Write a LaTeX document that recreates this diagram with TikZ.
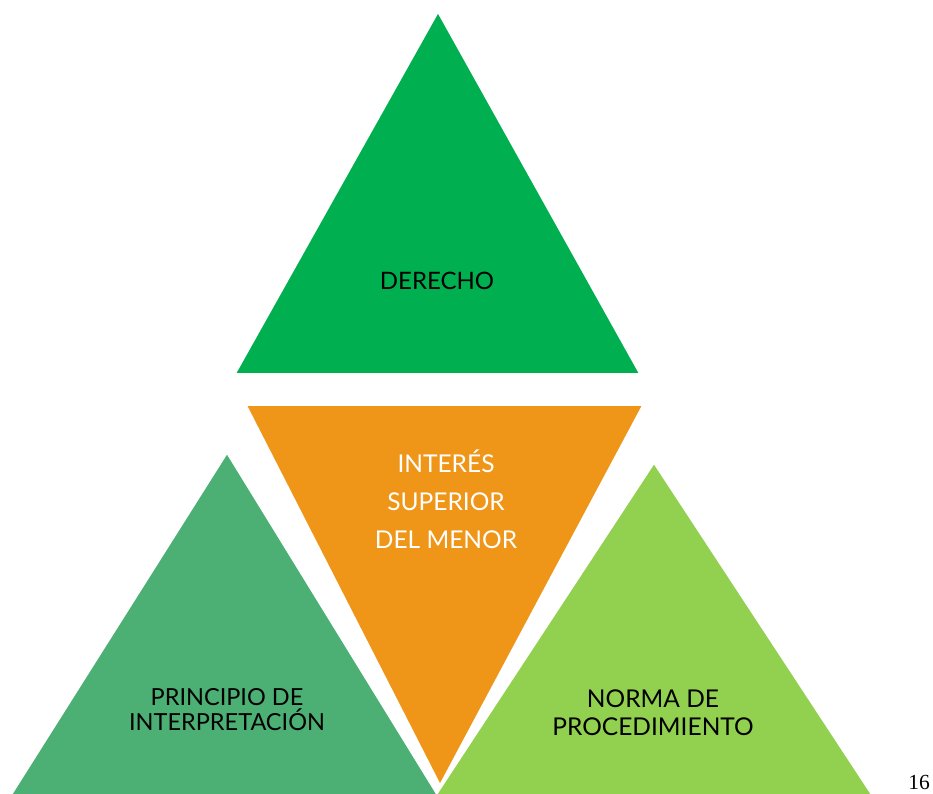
\documentclass[tikz,border=0pt]{standalone}
\usepackage{fontspec}
\setmainfont{Lato}
\newfontfamily\pagefont{Liberation Serif}
\definecolor{topgreen}{HTML}{00B050}
\definecolor{midorange}{HTML}{EF9619}
\definecolor{leftgreen}{HTML}{4CAF73}
\definecolor{rightgreen}{HTML}{92D050}
\begin{document}
\begin{tikzpicture}[x=1pt,y=-1pt,
  tri/.style={draw=white,line width=1.6pt,line join=miter},
  label/.style={align=center,inner sep=0pt,text=black}]
\useasboundingbox (0,0) rectangle (933,793);
\begin{scope}
\clip (0,0) rectangle (933,793);
% lower left triangle
\filldraw[tri,fill=leftgreen] (227,453) -- (-11,830) -- (459,830) -- cycle;
% lower right triangle
\filldraw[tri,fill=rightgreen] (654,463) -- (413,830) -- (895,830) -- cycle;
% inverted centre triangle
\filldraw[tri,fill=midorange] (246,405) -- (643,405) -- (440,785) -- cycle;
% top triangle
\filldraw[tri,fill=topgreen] (438,12) -- (235,374) -- (640,374) -- cycle;
\end{scope}
\node[label,font=\fontsize{24}{26}\selectfont] (derecho) at (437,281) {DERECHO};
\node[label,text=white,font=\fontsize{24.5}{38}\selectfont] (interes) at (446,499)
  {INTERÉS\\SUPERIOR\\DEL MENOR};
\node[label,font=\fontsize{23.5}{25}\selectfont] (principio) at (227,710)
  {PRINCIPIO DE\\INTERPRETACIÓN};
\node[label,font=\fontsize{24.5}{28}\selectfont] (norma) at (653,713)
  {NORMA DE\\PROCEDIMIENTO};
\node[inner sep=0pt,font=\pagefont\fontsize{21.5}{24}\selectfont] (page) at (919,782) {16};
\end{tikzpicture}
\end{document}
